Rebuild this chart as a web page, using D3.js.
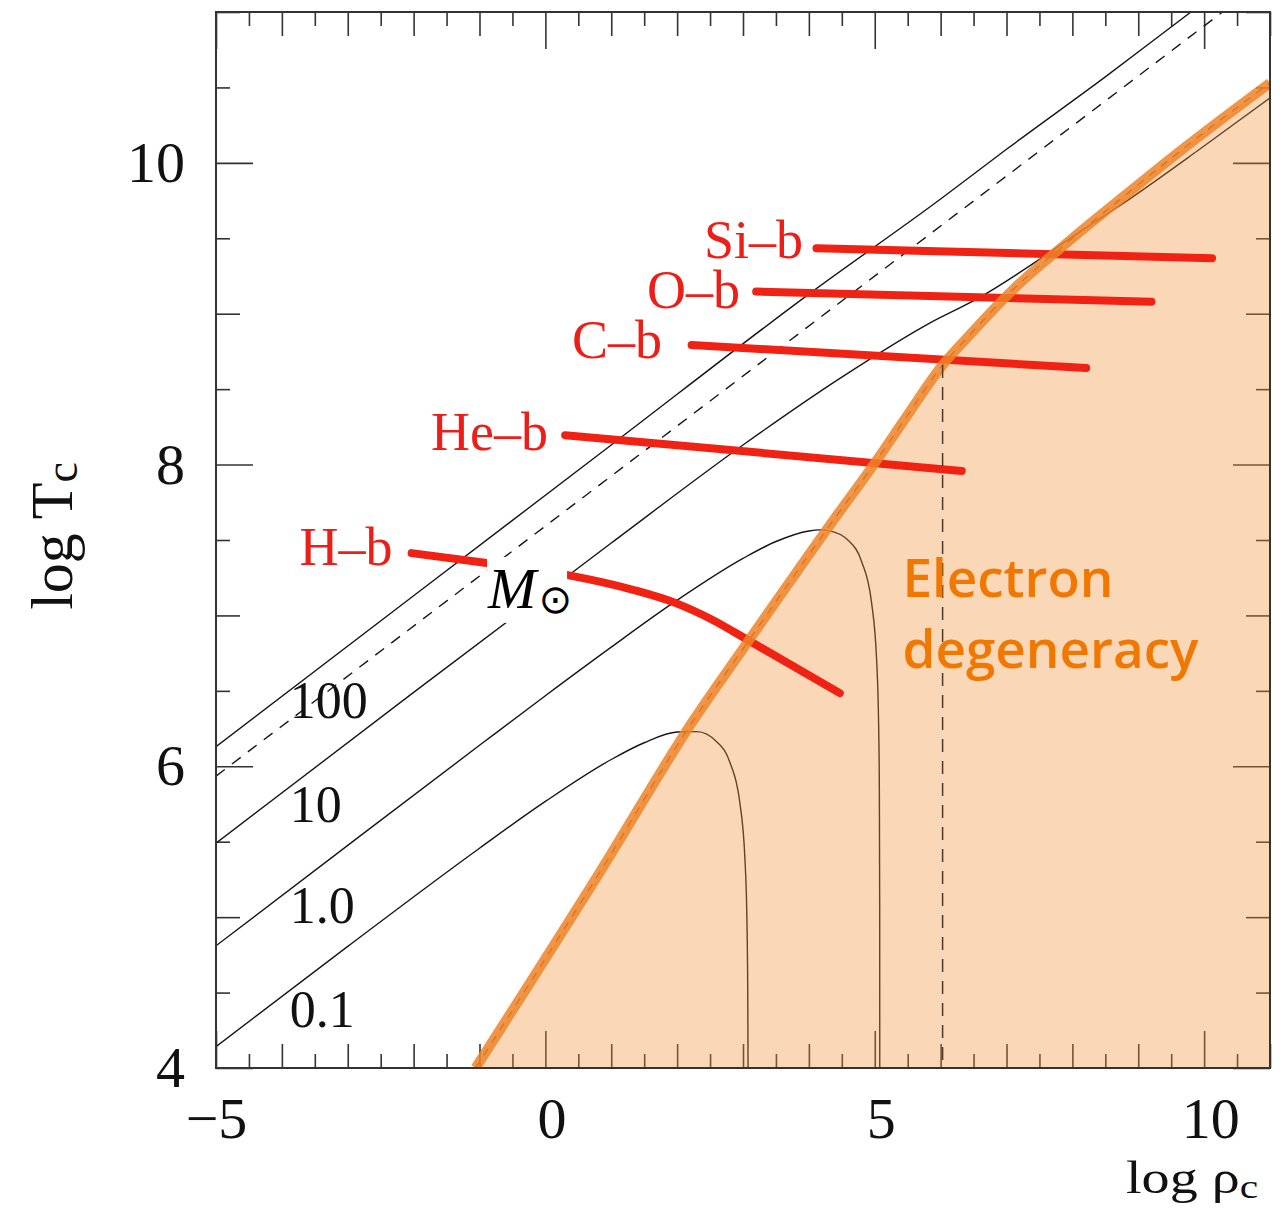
<!DOCTYPE html>
<html>
<head>
<meta charset="utf-8">
<script src="https://cdn.jsdelivr.net/npm/d3@7"></script>
<style>
  body { margin: 0; background: #fff; }
  svg { display: block; }
</style>
</head>
<body>
<div id="chart"></div>
<script>
// central density / temperature plane: mass tracks, burning lines, degeneracy boundary

const massLabels = ["100", "10", "1.0", "0.1"];

const rho100 = [-5, -2, 1, 4, 6, 7, 8.5, 9.8, 10.2];
const temp100 = [6.13, 7.13, 8.13, 9.13, 9.76, 10.09, 10.57, 11.0, 11.13];

const rho10 = [-5, -2, 1, 3, 4.5, 5.8, 6.6, 7.5, 8.0, 8.9, 9.9, 11];
const temp10 = [5.49, 6.49, 7.48, 8.13, 8.58, 8.93, 9.11, 9.36, 9.51, 9.77, 10.08, 10.43];

const rho1 = [-5, -3, -1, 0, 1, 2, 3, 3.5, 4, 4.17, 4.3, 4.6, 4.8, 4.95, 5.03, 5.06, 5.07, 5.075, 5.076];
const temp1 = [4.81, 5.476, 6.139, 6.468, 6.79, 7.101, 7.378, 7.49, 7.56, 7.567, 7.562, 7.496, 7.358, 7.09, 6.69, 6.25, 5.83, 5.05, 4.0];

const rho01 = [-5, -3, -1, 0, 1, 1.5, 2, 2.3, 2.6, 2.8, 2.95, 3.03, 3.06, 3.072, 3.077];
const temp01 = [4.142, 4.806, 5.457, 5.767, 6.045, 6.156, 6.227, 6.23, 6.163, 6.027, 5.765, 5.379, 4.967, 4.497, 4.0];

// dashed ideal-gas reference line
const rhoIdeal = [-5, 10.4];
const tempIdeal = [5.935, 11.04];

// electron degeneracy boundary
const rhoDegen = [-1.06, 0.83, 2.24, 3.05, 4.37, 5.0, 5.5, 6.03, 6.4, 7.1, 8.0, 8.9, 9.7, 11];
const tempDegen = [4.0, 5.30, 6.30, 6.81, 7.63, 8.01, 8.33, 8.66, 8.84, 9.16, 9.50, 9.82, 10.10, 10.53];
const rhoRelativistic = 6.03;
const tempRelativistic = 8.66;

// burning lines
const burnNames = ["H\u2013b", "He\u2013b", "C\u2013b", "O\u2013b", "Si\u2013b"];
const rhoHb = [-2.03, -0.89, 0.32, 1.33, 1.99, 2.54, 3.10, 4.47];
const tempHb = [7.413, 7.347, 7.269, 7.17, 7.08, 6.97, 6.83, 6.485];
const rhoHeb = [0.30, 6.32];
const tempHeb = [8.195, 7.958];
const rhoCb = [2.22, 8.21];
const tempCb = [8.793, 8.64];
const rhoOb = [3.2, 9.2];
const tempOb = [9.147, 9.08];
const rhoSib = [4.115, 10.12];
const tempSib = [9.434, 9.368];

const xTickLabels = [-5, 0, 5, 10];
const yTickLabels = [4, 6, 8, 10];

// annotation anchors (data units)
const massLabelPos = [[-3.88, 6.32], [-3.88, 5.631], [-3.88, 4.961], [-3.88, 4.272]];
const burnLabelPos = [[-2.32, 7.335], [0.04, 8.097], [1.77, 8.707], [2.955, 9.038], [3.91, 9.37]];

const W = 1285, H = 1214;
const serif = "'Liberation Serif', 'Times New Roman', serif";

const x = d3.scaleLinear().domain([-5, 11]).range([216, 1270]);
const y = d3.scaleLinear().domain([4, 11]).range([1068, 12]);

const svg = d3.select('#chart').append('svg')
  .attr('width', W).attr('height', H);

svg.append('defs').append('clipPath').attr('id', 'plot')
  .append('rect')
  .attr('x', x(-5)).attr('y', y(11))
  .attr('width', x(11) - x(-5)).attr('height', y(4) - y(11));

const zip = (xs, ys) => xs.map((v, i) => [v, ys[i]]);

// ---- ticks (inward, on all four sides)
function tickLen(v, majorStep) {
  if (v % 1 !== 0) return 14;
  if (v % majorStep === 0) return 37;
  return 24;
}
const xVals = d3.range(-10, 23).map(i => i / 2);
const yVals = d3.range(8, 23).map(i => i / 2);

function ticks(axisFn, scale, values, transform, majorStep) {
  [14, 24, 37].forEach(len => {
    const vals = values.filter(v => tickLen(v, majorStep) === len);
    const g = svg.append('g').attr('transform', transform)
      .call(axisFn(scale).tickValues(vals).tickSize(-len).tickFormat(''));
    g.select('.domain').remove();
    g.selectAll('line').attr('stroke', '#333').attr('stroke-width', 1.6);
  });
}
ticks(d3.axisBottom, x, xVals, `translate(0,${y(4)})`, 5);
ticks(d3.axisTop, x, xVals, `translate(0,${y(11)})`, 5);
ticks(d3.axisLeft, y, yVals, `translate(${x(-5)},0)`, 2);
ticks(d3.axisRight, y, yVals, `translate(${x(11)},0)`, 2);

// ---- black tracks
const line = d3.line().x(d => x(d[0])).y(d => y(d[1])).curve(d3.curveMonotoneX);
const plot = svg.append('g').attr('clip-path', 'url(#plot)');

[zip(rho100, temp100), zip(rho10, temp10), zip(rho1, temp1), zip(rho01, temp01)].forEach(t => {
  plot.append('path').attr('d', line(t))
    .attr('fill', 'none').attr('stroke', '#161616').attr('stroke-width', 1.4);
});

plot.append('path').attr('d', d3.line().x(d => x(d[0])).y(d => y(d[1]))(zip(rhoIdeal, tempIdeal)))
  .attr('fill', 'none').attr('stroke', '#161616').attr('stroke-width', 1.4)
  .attr('stroke-dasharray', '11,9');

const degen = zip(rhoDegen, tempDegen);
plot.append('path').attr('d', line(degen))
  .attr('fill', 'none').attr('stroke', '#222').attr('stroke-width', 1.4)
  .attr('stroke-dasharray', '8,7');

// ---- degenerate region overlay
const area = d3.area().x(d => x(d[0])).y0(y(4)).y1(d => y(d[1])).curve(d3.curveMonotoneX);
plot.append('path').attr('d', area(degen))
  .attr('fill', 'rgb(240,145,55)').attr('fill-opacity', 0.36);

// ---- burning lines
const burns = [zip(rhoHb, tempHb), zip(rhoHeb, tempHeb), zip(rhoCb, tempCb), zip(rhoOb, tempOb), zip(rhoSib, tempSib)];
burns.forEach(b => {
  plot.append('path').attr('d', line(b))
    .attr('fill', 'none').attr('stroke', 'rgb(240,34,20)').attr('stroke-width', 8)
    .attr('stroke-linecap', 'round');
});

// orange boundary band
plot.append('path').attr('d', line(degen))
  .attr('fill', 'none').attr('stroke', 'rgb(238,132,40)').attr('stroke-width', 10)
  .attr('stroke-opacity', 0.85);

// region label
const eText = svg.append('text')
  .attr('font-family', "'Open Sans', sans-serif").attr('font-weight', 600)
  .attr('font-size', 53).attr('fill', '#f07800');
eText.append('tspan').attr('x', x(5.42)).attr('y', y(7.122)).text('Electron');
eText.append('tspan').attr('x', x(5.42)).attr('y', y(6.652)).text('degeneracy');

// relativistic transition (dashed vertical)
plot.append('line')
  .attr('x1', x(rhoRelativistic)).attr('x2', x(rhoRelativistic))
  .attr('y1', y(tempRelativistic)).attr('y2', y(4))
  .attr('stroke', '#4a3a2c').attr('stroke-width', 1.5).attr('stroke-dasharray', '13,9');

// ---- labels
massLabels.forEach((m, i) => {
  svg.append('text').attr('x', x(massLabelPos[i][0])).attr('y', y(massLabelPos[i][1]))
    .attr('font-family', serif).attr('font-size', 52).attr('fill', '#111').text(m);
});

burnNames.forEach((n, i) => {
  svg.append('text').attr('x', x(burnLabelPos[i][0])).attr('y', y(burnLabelPos[i][1]))
    .attr('text-anchor', 'end')
    .attr('font-family', serif).attr('font-size', 54).attr('fill', 'rgb(236,30,24)').text(n);
});

// solar mass unit label on a white box
const mx = x(-0.87), my = y(7.05);
svg.append('rect').attr('x', mx - 1).attr('y', my - 51).attr('width', 80).attr('height', 66).attr('fill', '#fff');
const mText = svg.append('text').attr('x', mx).attr('y', my)
  .attr('font-family', serif).attr('font-size', 58).attr('font-style', 'italic').attr('fill', '#000');
mText.append('tspan').text('M');
mText.append('tspan').attr('font-family', "'DejaVu Sans', sans-serif").attr('font-style', 'normal')
  .attr('font-size', 40).attr('dx', 2).attr('dy', 5).text('\u2299');

// ---- frame
svg.append('rect')
  .attr('x', x(-5)).attr('y', y(11))
  .attr('width', x(11) - x(-5)).attr('height', y(4) - y(11))
  .attr('fill', 'none').attr('stroke', '#333').attr('stroke-width', 2);

// ---- tick labels
const gx = svg.append('g').attr('transform', `translate(0,${y(4)})`)
  .call(d3.axisBottom(x).tickValues(xTickLabels).tickSize(0).tickPadding(29).tickFormat(d3.format('d')));
gx.select('.domain').remove();
gx.selectAll('text').attr('font-family', serif).attr('font-size', 58).attr('fill', '#111')
  .attr('dx', d => d < 0 ? 0 : 6);

const gy = svg.append('g').attr('transform', `translate(${x(-5)},0)`)
  .call(d3.axisLeft(y).tickValues(yTickLabels).tickSize(0).tickPadding(31).tickFormat(d3.format('d')));
gy.select('.domain').remove();
gy.selectAll('text').attr('font-family', serif).attr('font-size', 58).attr('fill', '#111');

// ---- axis titles
const yTitle = svg.append('text')
  .attr('transform', 'translate(72,536) rotate(-90)')
  .attr('text-anchor', 'middle')
  .attr('font-family', serif).attr('font-size', 60).attr('fill', '#111');
yTitle.append('tspan').text('log T');
yTitle.append('tspan').attr('font-size', 46).attr('dy', 5).text('c');

const xTitle = svg.append('text')
  .attr('transform', 'translate(1126,1193) scale(1.22,1)')
  .attr('font-family', serif).attr('font-size', 46).attr('fill', '#111');
xTitle.append('tspan').text('log \u03c1');
xTitle.append('tspan').attr('font-size', 34).attr('dy', 5).text('c');
</script>
</body>
</html>
